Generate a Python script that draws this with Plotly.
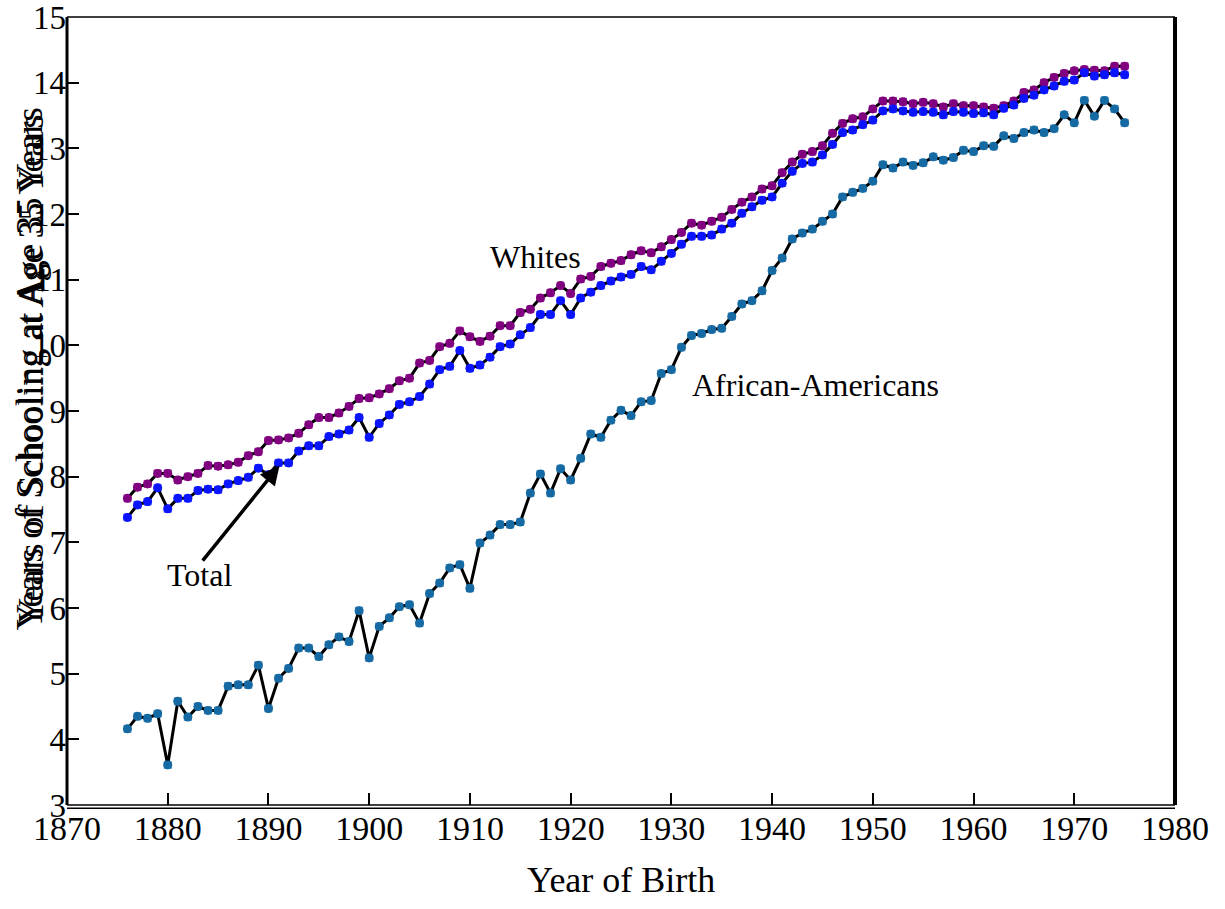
import plotly.graph_objects as go

# Birth cohorts 1876-1975
years = list(range(1876, 1976))

# Mean years of schooling at age 35, by birth cohort
whites = [
    7.67, 7.84, 7.89, 8.05, 8.05, 7.95, 8.00, 8.05, 8.17, 8.16,
    8.18, 8.22, 8.32, 8.38, 8.55, 8.56, 8.59, 8.66, 8.79, 8.90,
    8.90, 8.97, 9.07, 9.19, 9.20, 9.26, 9.34, 9.46, 9.50, 9.73,
    9.77, 9.98, 10.03, 10.22, 10.13, 10.06, 10.14, 10.30, 10.30, 10.50,
    10.55, 10.72, 10.80, 10.91, 10.79, 11.01, 11.05, 11.20, 11.25, 11.29,
    11.38, 11.44, 11.41, 11.50, 11.61, 11.72, 11.86, 11.83, 11.89, 11.95,
    12.07, 12.18, 12.26, 12.38, 12.43, 12.63, 12.79, 12.91, 12.95, 13.04,
    13.23, 13.38, 13.45, 13.48, 13.60, 13.72, 13.72, 13.71, 13.68, 13.70,
    13.68, 13.63, 13.68, 13.65, 13.65, 13.63, 13.61, 13.65, 13.72, 13.85,
    13.89, 14.00, 14.08, 14.14, 14.18, 14.20, 14.19, 14.18, 14.25, 14.25,
]

total = [
    7.38, 7.57, 7.62, 7.83, 7.51, 7.67, 7.67, 7.79, 7.81, 7.80,
    7.89, 7.94, 7.99, 8.13, 8.03, 8.21, 8.21, 8.39, 8.47, 8.47,
    8.61, 8.65, 8.71, 8.90, 8.60, 8.81, 8.94, 9.10, 9.14, 9.22,
    9.41, 9.63, 9.68, 9.92, 9.65, 9.70, 9.82, 9.98, 10.02, 10.16,
    10.27, 10.47, 10.47, 10.68, 10.47, 10.72, 10.81, 10.91, 10.98, 11.04,
    11.08, 11.20, 11.15, 11.28, 11.40, 11.54, 11.66, 11.66, 11.68, 11.77,
    11.86, 12.01, 12.11, 12.21, 12.26, 12.47, 12.65, 12.77, 12.79, 12.90,
    13.06, 13.24, 13.28, 13.36, 13.43, 13.57, 13.60, 13.57, 13.55, 13.56,
    13.55, 13.51, 13.56, 13.55, 13.53, 13.54, 13.51, 13.61, 13.66, 13.76,
    13.81, 13.89, 13.95, 14.02, 14.04, 14.15, 14.10, 14.12, 14.15, 14.12,
]

african_americans = [
    4.16, 4.35, 4.32, 4.39, 3.61, 4.58, 4.34, 4.50, 4.44, 4.44,
    4.81, 4.83, 4.83, 5.13, 4.47, 4.93, 5.08, 5.39, 5.39, 5.26,
    5.44, 5.56, 5.49, 5.96, 5.24, 5.72, 5.85, 6.02, 6.05, 5.77,
    6.22, 6.38, 6.61, 6.66, 6.30, 6.99, 7.11, 7.27, 7.27, 7.31,
    7.75, 8.04, 7.75, 8.12, 7.95, 8.28, 8.65, 8.60, 8.86, 9.01,
    8.93, 9.14, 9.16, 9.57, 9.63, 9.97, 10.15, 10.18, 10.24, 10.26,
    10.44, 10.63, 10.68, 10.83, 11.14, 11.33, 11.62, 11.71, 11.77, 11.89,
    12.00, 12.26, 12.33, 12.39, 12.50, 12.75, 12.70, 12.79, 12.74, 12.78,
    12.87, 12.82, 12.86, 12.97, 12.95, 13.04, 13.03, 13.19, 13.15, 13.24,
    13.28, 13.24, 13.30, 13.51, 13.39, 13.73, 13.49, 13.73, 13.60, 13.39,
]

x_ticks = [1870, 1880, 1890, 1900, 1910, 1920, 1930, 1940, 1950, 1960, 1970, 1980]
y_ticks = list(range(3, 16))

FONT = "Liberation Serif, Times New Roman, serif"

series = [
    ("Whites", whites, "#800080"),
    ("Total", total, "#0a14ff"),
    ("African-Americans", african_americans, "#166aa3"),
]

fig = go.Figure()
for name, vals, col in series:
    # thin open squares underneath, then the black line with filled dots
    fig.add_trace(go.Scatter(
        x=years, y=vals, name=name, mode="markers",
        marker=dict(symbol="square-open", size=7, color=col, line=dict(width=0.8, color=col)),
        showlegend=False, hoverinfo="skip",
    ))
    fig.add_trace(go.Scatter(
        x=years, y=vals, name=name, mode="lines+markers",
        line=dict(color="black", width=3),
        marker=dict(symbol="circle", size=9, color=col, line=dict(width=0)),
        showlegend=False,
    ))

axis_common = dict(
    showgrid=False, zeroline=False, showline=False,
    ticks="inside", ticklen=12, tickwidth=2, tickcolor="black",
    ticklabeloverflow="allow", automargin=False,
)
fig.update_xaxes(range=[1870, 1980], tickvals=x_ticks,
                 tickfont=dict(family=FONT, size=34, color="black"), **axis_common)
fig.update_yaxes(range=[3, 15], tickvals=y_ticks,
                 tickfont=dict(family=FONT, size=33, color="black"), **axis_common)

# frame around the plotting area
frame = [
    dict(x0=0, x1=1, y0=1, y1=1, w=1.5),
    dict(x0=1, x1=1, y0=0, y1=1, w=4),
    dict(x0=0, x1=0, y0=0, y1=1, w=3),
    dict(x0=0, x1=1, y0=0, y1=0, w=1.5),
    dict(x0=0, x1=1, y0=-0.0042, y1=-0.0042, w=1.5),
]
for s in frame:
    fig.add_shape(type="line", xref="paper", yref="paper",
                  x0=s["x0"], x1=s["x1"], y0=s["y0"], y1=s["y1"],
                  line=dict(color="black", width=s["w"]))

txt = dict(family=FONT, size=32, color="black")
fig.add_annotation(x=1916.5, y=11.34, text="Whites", showarrow=False, font=txt)
fig.add_annotation(x=1944.3, y=9.40, text="African-Americans", showarrow=False, font=txt)
fig.add_annotation(x=1883.2, y=6.51, text="Total", showarrow=False, font=txt)
fig.add_annotation(
    x=1891.1, y=8.17, ax=1883.35, ay=6.70, axref="x", ayref="y",
    text="", showarrow=True, arrowhead=2, arrowsize=1.1, arrowwidth=3.5,
    arrowcolor="black",
)

# axis titles
fig.add_annotation(
    xref="paper", yref="paper", x=0.5, y=-0.095, yanchor="middle",
    text="Year of Birth", showarrow=False,
    font=dict(family=FONT, size=36, color="black"),
)
ytitle = "Years of Schooling at Age 35 Years"
for size, dx in [(37, 0.0), (36, 0.002)]:
    fig.add_annotation(
        xref="paper", yref="paper", x=-0.034 + dx, y=0.553, xanchor="center", yanchor="middle",
        text=ytitle, textangle=-90, showarrow=False,
        font=dict(family=FONT, size=size, color="black"),
    )

fig.update_layout(
    width=1225, height=909,
    margin=dict(l=67, r=50, t=17, b=104),
    paper_bgcolor="white", plot_bgcolor="white",
)

fig.write_html("out.html")
